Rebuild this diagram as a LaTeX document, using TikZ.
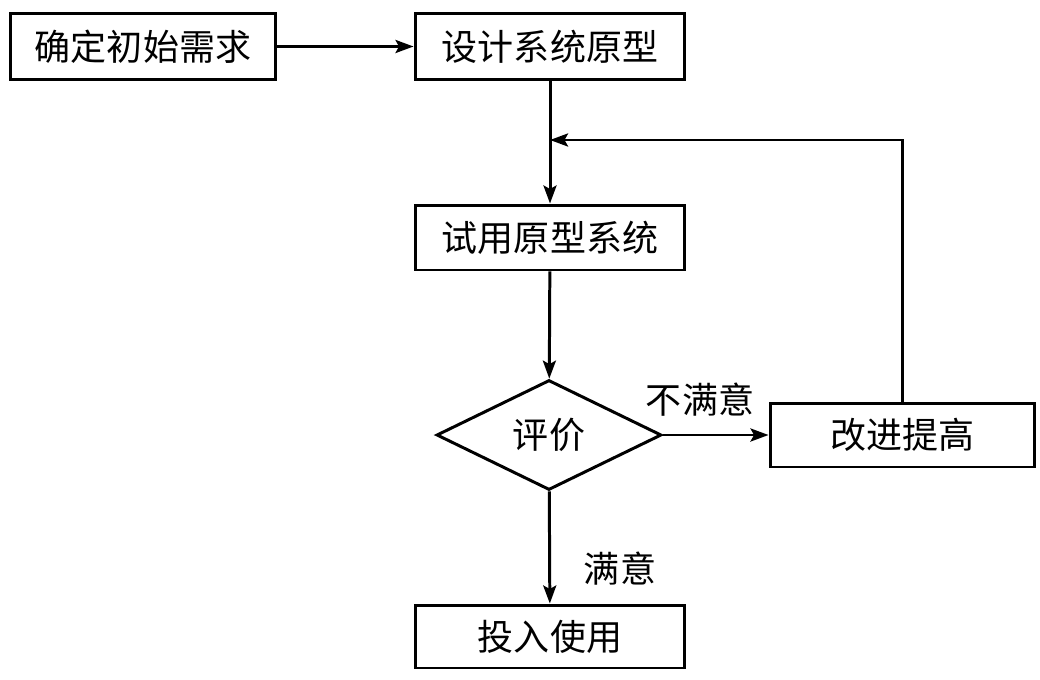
\documentclass[tikz,border=0pt]{standalone}
\usepackage{fontspec}
\setmainfont{Noto Sans CJK SC}
\usetikzlibrary{arrows.meta,shapes.geometric}

\tikzset{
  box/.style={draw, line width=1.7pt, minimum width=5.4cm, minimum height=1.32cm,
    inner sep=0pt, font=\fontsize{20.5}{23}\selectfont},
  judge/.style={draw, diamond, aspect=2, line width=1.7pt, minimum width=4.5cm,
    minimum height=2.2cm, inner sep=0pt, font=\fontsize{20.5}{23}\selectfont},
  flow/.style={line width=1.7pt, -{Stealth[length=0.36cm,width=0.26cm,inset=0.07cm]}},
  lbl/.style={font=\fontsize{20.5}{23}\selectfont}
}

\begin{document}
\begin{tikzpicture}[x=0.02cm, y=-0.02cm]
  \useasboundingbox (0,0) rectangle (1040,679);

  % the boxes
  \node[box, minimum width=5.32cm] (need)    at (143, 46.5)  {确定初始需求};
  \node[box]                       (design)  at (550, 46.5)  {设计系统原型};
  \node[box, minimum height=1.3cm] (trial)   at (550, 237.5) {试用原型系统};
  \node[judge]                     (eval)    at (549, 435)   {评价};
  \node[box, minimum width=5.3cm, minimum height=1.28cm] (improve) at (902.5, 435) {改进提高};
  \node[box, minimum height=1.26cm] (use)    at (550, 636.5) {投入使用};
  %\node[box] (use) at (550, 640) {投入使用};

  % where the loop comes back in
  \coordinate (join) at (550, 140);

  \draw[flow] (need) -- (design);
  \draw[flow] (design) -- (trial);
  \draw[flow] (trial) -- (eval);
  \draw[flow] (eval) -- (improve);
  \draw[flow] (eval) -- (use);
  \draw[flow] (improve.north) |- (join);

  % annotate the branches
  \node[lbl] (no)  at (700, 400) {不满意};
  \node[lbl] (yes) at (620, 569) {满意};
\end{tikzpicture}
\end{document}
